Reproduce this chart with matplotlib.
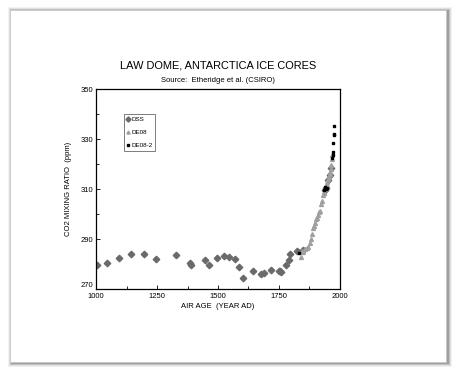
import matplotlib
matplotlib.use("Agg")
import matplotlib.pyplot as plt
from matplotlib.patches import Rectangle

# DSS core (diamonds)
dss_year = [1005, 1045, 1095, 1145, 1196, 1245, 1326, 1386, 1390, 1445, 1463,
            1497, 1526, 1547, 1568, 1588, 1603, 1645, 1678, 1690, 1718, 1748,
            1753, 1759, 1777, 1793, 1795, 1823, 1847, 1938, 1941, 1950, 1957, 1965]
dss_co2 = [279.6, 280.3, 282.4, 283.9, 283.9, 281.9, 283.5, 280.3, 279.8, 281.7, 279.6,
           282.5, 283.2, 282.8, 282.0, 278.7, 274.4, 277.2, 276.0, 276.4, 277.6, 277.1,
           277.4, 276.8, 279.6, 281.7, 283.9, 285.3, 285.6, 309.8, 310.6, 313.5, 315.8, 318.6]

# DE08 core (triangles)
de08_year = [1840, 1845, 1850, 1857, 1865, 1870, 1877, 1880, 1884, 1890, 1893,
             1897, 1901, 1905, 1910, 1915, 1918, 1923, 1925, 1930, 1934, 1936,
             1940, 1945, 1948, 1952, 1955, 1958, 1960, 1962, 1964, 1966, 1968]
de08_co2 = [283.0, 285.3, 285.0, 286.2, 286.5, 287.0, 288.3, 290.0, 291.9, 294.5, 295.2,
            296.3, 298.0, 298.4, 299.5, 300.7, 301.2, 304.0, 305.2, 307.5, 308.4, 309.0,
            310.0, 311.5, 312.9, 314.0, 315.0, 316.0, 317.0, 318.0, 319.5, 322.0, 323.5]

# DE08-2 core (squares)
de082_year = [1831, 1936, 1938, 1940, 1944, 1946, 1969, 1970, 1970, 1972, 1974, 1974, 1976]
de082_co2 = [284.4, 309.5, 310.3, 310.8, 310.0, 310.4, 322.5, 323.5, 324.9, 328.3, 331.5, 332.0, 335.3]

x_major = [1000, 1250, 1500, 1750, 2000]
x_minor = [1125, 1375, 1625, 1875]
y_major = [270, 290, 310, 330, 350]
y_minor = [280, 300, 320, 340]

plt.rcParams['font.family'] = ['Liberation Sans', 'DejaVu Sans']

fig = plt.figure(figsize=(4.56, 3.72), dpi=100)
fig.patch.set_facecolor('white')

# card with soft shadow
for i, a in enumerate([0.05, 0.08, 0.12, 0.18]):
    d = 4 - i
    fig.patches.append(Rectangle(((10 - d + 2) / 456, (10 - d - 1) / 372),
                                 (436 + 2 * d) / 456, (352 + 2 * d) / 372,
                                 transform=fig.transFigure, facecolor='black',
                                 edgecolor='none', alpha=a, zorder=0))
fig.patches.append(Rectangle((10 / 456, 10 / 372), 436 / 456, 352 / 372,
                             transform=fig.transFigure, facecolor='white',
                             edgecolor='#c8c8c8', lw=0.6, zorder=1))

ax = fig.add_axes([96 / 456, 83 / 372, 244 / 456, 200 / 372])
ax.set_zorder(2)

ax.plot(dss_year, dss_co2, 'D', color='#6a6a6a', ms=3.3, mec='#6a6a6a', label='DSS')
ax.plot(de08_year, de08_co2, '^', color='#a0a0a0', ms=2.8, mec='#a0a0a0', label='DE08')
ax.plot(de082_year, de082_co2, 's', color='black', ms=2.0, label='DE08-2')

ax.set_xlim(1000, 2000)
ax.set_ylim(270, 350)
ax.set_xticks(x_major)
ax.set_xticks(x_minor, minor=True)
ax.set_yticks(y_major)
ax.set_yticks(y_minor, minor=True)
ax.tick_params(which='both', direction='in', labelsize=5.5)
ax.tick_params(axis='x', pad=3)
ax.tick_params(axis='y', pad=2)
ax.tick_params(which='major', length=3, width=0.6)
ax.tick_params(which='minor', length=2, width=0.6)
# lift the bottom y label a little so it clears "1000"
ax.get_yticklabels()[0].set_verticalalignment('bottom')
for s in ax.spines.values():
    s.set_linewidth(0.9)

ax.set_xlabel('AIR AGE  (YEAR AD)', fontsize=5.5, labelpad=2)
ax.set_ylabel('CO2 MIXING RATIO  (ppm)', fontsize=5.5, labelpad=6)

leg = ax.legend(loc='upper left', bbox_to_anchor=(0.10, 0.89), fontsize=4.5,
                frameon=True, fancybox=False, edgecolor='#444444',
                handlelength=0.6, handletextpad=0.2, labelspacing=1.2,
                borderpad=0.45, markerscale=0.8)
leg.get_frame().set_linewidth(0.6)

fig.text(218 / 456, 1 - 65 / 372, 'LAW DOME, ANTARCTICA ICE CORES',
         ha='center', va='center', fontsize=7.9)
fig.text(218 / 456, 1 - 81 / 372, 'Source:  Etheridge et al. (CSIRO)',
         ha='center', va='center', fontsize=5.5)

fig.savefig('out.png', dpi=100)
